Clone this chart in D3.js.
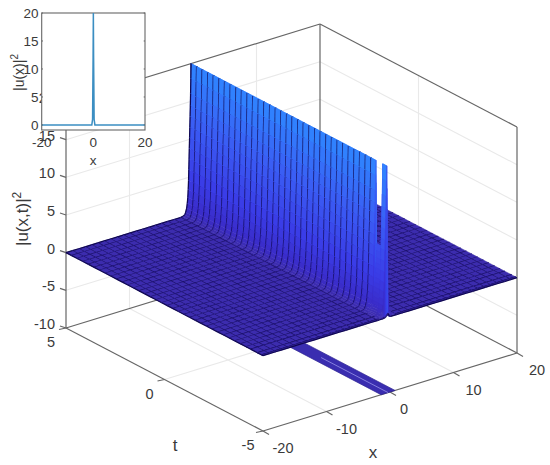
<!DOCTYPE html>
<html><head><meta charset="utf-8">
<script src="https://cdn.jsdelivr.net/npm/d3@7"></script>
<style>html,body{margin:0;background:#fff}svg{display:block}text{font-family:"Liberation Sans",Arial,sans-serif;fill:#3a3a3a}</style>
</head><body><script>
const xTicks=[-20,-10,0,10,20];
const tTicks=[5,0,-5];
const zTicks=[-10,-5,0,5,10,15,20];
const xValues=[-20,-19,-18,-17,-16,-15,-14,-13,-12,-11,-10,-9,-8,-7,-6,-5,-4,-3,-2,-1.6,-1.3,-1.15,-1,-0.9,-0.82,-0.75,-0.7,-0.66,-0.62,-0.58,-0.54,-0.5,-0.46,-0.42,-0.38,-0.34,-0.3,-0.26,-0.2,-0.1,0.1,1,2,3,4,5,6,7,8,9,10,11,12,13,14,15,16,17,18,19,20];
const heightProfile=[0,0,0,0,0,0,0,0,0,0,0,0,0,0,0,0,0,0,0,0.05,0.2,0.5,1,1.6,2.4,3.4,4.6,6,7.4,8.8,10.2,11.6,13,14.4,16,18,20,17,10,3,0.5,0,0,0,0,0,0,0,0,0,0,0,0,0,0,0,0,0,0,0,0];
const tValues=[5,4.71,4.43,4.14,3.86,3.57,3.29,3,2.71,2.43,2.14,1.86,1.57,1.29,1,0.71,0.43,0.14,-0.14,-0.43,-0.71,-1,-1.29,-1.57,-1.86,-2.14,-2.43,-2.71,-3,-3.29,-3.57,-3.86,-4.14,-4.38,-4.39,-4.72,-4.73,-4.93,-4.94,-5];
const rowPeak=[20,20,20,20,20,20,20,20,20,20,20,20,20,20,20,20,20,20,20,20,20,20,20,20,20,20,20,20,20,20,20,20,20,20,9,9,20,20,0.5,0.5];
const bandEdgeX=[-1.4,0.8];
const bandT=[-5,5];
const bandLightT=[-5,-1.6];
const insetX=[-20,-0.6,-0.3,-0.1,0,0.1,0.3,0.6,20];
const insetY=[0,0,1,12,20,12,1,0,0];
const insetXTicks=[-20,0,20];
const insetYTicks=[0,5,10,15,20];

const W=550,H=465;
const svg=d3.select("body").append("svg").attr("width",W).attr("height",H);
const xpx=d3.scaleLinear([-20,20],[0,254]), xpy=d3.scaleLinear([-20,20],[0,-78]);
const tpx=d3.scaleLinear([5,-5],[0,197]),  tpy=d3.scaleLinear([5,-5],[0,103]);
const zpy=d3.scaleLinear([-10,20],[0,-226]);
const P=(x,t,z)=>[66+xpx(x)+tpx(t),328+xpy(x)+tpy(t)+zpy(z)];
const line=d3.line();
const grid=svg.append("g").attr("fill","none").attr("stroke","#e9e9e9").attr("stroke-width",1.1);
const seg=(g,a,b)=>g.append("path").attr("d",line([a,b]));
const L=-20,R=20,B=-5,F=5,Zl=-10,Zh=20;
xTicks.slice(1,-1).forEach(x=>{seg(grid,P(x,F,Zl),P(x,F,Zh));seg(grid,P(x,F,Zl),P(x,B,Zl));});
seg(grid,P(R,0,Zl),P(R,0,Zh));seg(grid,P(L,0,Zl),P(R,0,Zl));
zTicks.slice(1,-1).forEach(z=>{seg(grid,P(L,F,z),P(R,F,z));seg(grid,P(R,F,z),P(R,B,z));});
const box=svg.append("g").attr("fill","none").attr("stroke","#666").attr("stroke-width",1.2);
[[[L,F,Zl],[L,F,Zh]],[[L,F,Zh],[R,F,Zh]],[[R,F,Zh],[R,B,Zh]],[[R,B,Zh],[R,B,Zl]],[[R,F,Zh],[R,F,Zl]],
 [[L,F,Zl],[R,F,Zl]],[[R,F,Zl],[R,B,Zl]],[[L,F,Zl],[L,B,Zl]],[[L,B,Zl],[R,B,Zl]]]
 .forEach(([a,b])=>seg(box,P(...a),P(...b)));
const labels=svg.append("g").attr("font-size",14.5);
zTicks.forEach(z=>{const p=P(L,F,z);seg(box,p,[p[0]-6,p[1]-2]);
 labels.append("text").attr("x",p[0]-11).attr("y",p[1]+1).attr("text-anchor","end").text(z);});
tTicks.forEach(t=>{const p=P(L,t,Zl);seg(box,p,[p[0]-7,p[1]+1.5]);
 labels.append("text").attr("x",p[0]-15).attr("y",p[1]+19).attr("text-anchor","middle").text(t);});
xTicks.forEach(x=>{const p=P(x,B,Zl);seg(box,p,[p[0]+6,p[1]+3.5]);
 labels.append("text").attr("x",p[0]+(x===0?14:20)).attr("y",p[1]+22).attr("text-anchor","middle").text(x);});
labels.append("text").attr("x",373).attr("y",458).attr("font-size",17).attr("text-anchor","middle").text("x");
labels.append("text").attr("x",175).attr("y",451).attr("font-size",17).attr("text-anchor","middle").text("t");
const zl=labels.append("text").attr("transform","translate(28,246) rotate(-90)").attr("font-size",17);
zl.append("tspan").text("|u(x,t)|");zl.append("tspan").attr("font-size",12).attr("dy",-7).text("2");
const bandPts=[P(bandEdgeX[0],bandT[0],Zl),P(bandEdgeX[1],bandT[0],Zl),P(bandEdgeX[1],bandT[1],Zl),P(bandEdgeX[0],bandT[1],Zl)];
svg.append("path").attr("d",line(bandPts)+"Z").attr("fill","#3a2db0").attr("stroke","#2a1f90").attr("stroke-width",0.7);
svg.append("path").attr("d",line(bandLightT.map(t=>P(-0.3,t,Zl)))).attr("stroke","#8d88e2").attr("stroke-width",0.9).attr("fill","none");
const color=d3.scaleLinear([0,1,5,12,20],["#3c2cae","#3a2cc8","#3a3ce6","#3a5cf4","#2f86ff"]);
const dark="#100850";
const surf=svg.append("g").attr("stroke-linejoin","round");
const Z=(i,j)=>heightProfile[i]*rowPeak[j]/20;
for(let i=xValues.length-2;i>=0;i--){
 for(let j=0;j<tValues.length-1;j++){
  const a=P(xValues[i],tValues[j],Z(i,j)),b=P(xValues[i+1],tValues[j],Z(i+1,j)),
        c=P(xValues[i+1],tValues[j+1],Z(i+1,j+1)),d=P(xValues[i],tValues[j+1],Z(i,j+1));
  const m=(Z(i,j)+Z(i+1,j)+Z(i,j+1)+Z(i+1,j+1))/4;
  const col=color(m);
  surf.append("path").attr("d",line([a,b,c,d])+"Z").attr("fill",col).attr("stroke",col).attr("stroke-width",0.5);
  const tn=tValues[j+1];
  if(tn>-4.2||tn===-5||m<0.02) surf.append("path").attr("d",line([d,c])).attr("stroke",dark).attr("stroke-width",m>0.3?1.7:1.25).attr("fill","none");
  if(j===0) surf.append("path").attr("d",line([a,b])).attr("stroke",dark).attr("stroke-width",1.25).attr("fill","none");
  if(Number.isInteger(xValues[i])&&Z(i,j)<0.15){surf.append("path").attr("d",line([a,d])).attr("stroke",dark).attr("stroke-width",1.25).attr("fill","none");}
 }
}
const ix=d3.scaleLinear([-20,20],[41.7,145]),iy=d3.scaleLinear([-0.9,20],[130,13]);
const inset=svg.append("g");
inset.append("rect").attr("x",41.7).attr("y",13).attr("width",103.3).attr("height",117).attr("fill","#fff").attr("stroke","#666").attr("stroke-width",1.1);
inset.append("path").attr("d",d3.line().x(d=>ix(d[0])).y(d=>iy(d[1]))(insetX.map((x,i)=>[x,insetY[i]]))).attr("fill","none").attr("stroke","#3b8ec2").attr("stroke-width",1.5);
insetYTicks.forEach(v=>{inset.append("text").attr("x",38.5).attr("y",iy(v)+5).attr("text-anchor","end").attr("font-size",13.5).text(v);
 inset.append("path").attr("d",line([[41.7,iy(v)],[43,iy(v)]])).attr("stroke","#666");
 inset.append("path").attr("d",line([[145,iy(v)],[143.7,iy(v)]])).attr("stroke","#666");});
insetXTicks.forEach(v=>{inset.append("text").attr("x",ix(v)).attr("y",147).attr("text-anchor","middle").attr("font-size",13.5).text(v);});
inset.append("text").attr("x",93).attr("y",165).attr("text-anchor","middle").attr("font-size",13.5).text("x");
const il=inset.append("text").attr("transform","translate(24,91) rotate(-90)").attr("font-size",14);
il.append("tspan").text("|u(x)|");il.append("tspan").attr("font-size",10).attr("dy",-6).text("2");
</script></body></html>
